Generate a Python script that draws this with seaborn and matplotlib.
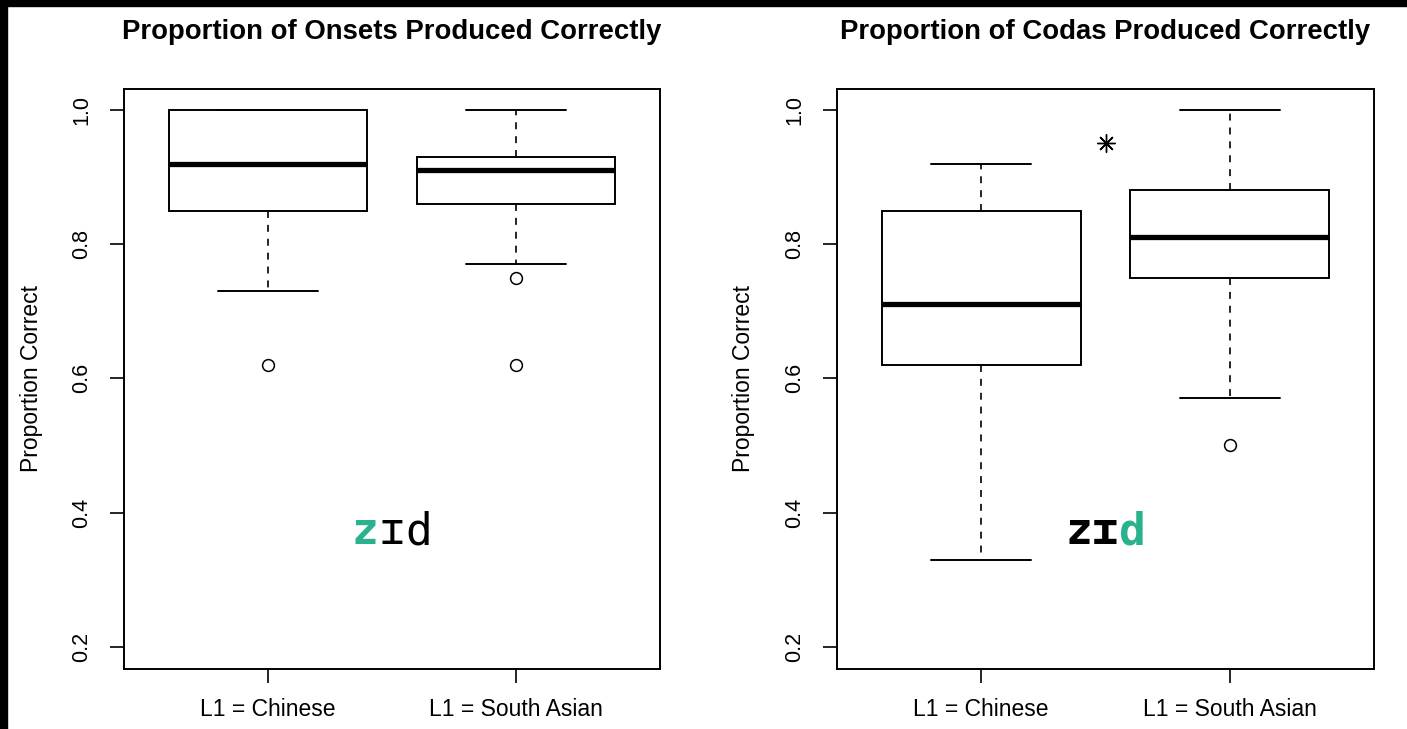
import numpy as np
import pandas as pd
import matplotlib
matplotlib.use("Agg")
import matplotlib.pyplot as plt
from matplotlib.patches import Rectangle
import seaborn as sns

# ---------------- data ----------------
groups = ["L1 = Chinese", "L1 = South Asian"]
onset_chinese = [0.62, 0.73, 0.85, 0.88, 0.92, 0.96, 1.00, 1.00, 1.00]
onset_south_asian = [0.62, 0.75, 0.77, 0.86, 0.88, 0.90, 0.91, 0.92, 0.93,
                     0.93, 0.95, 0.97, 1.00]
coda_chinese = [0.33, 0.50, 0.62, 0.66, 0.71, 0.78, 0.85, 0.88, 0.92]
coda_south_asian = [0.50, 0.57, 0.75, 0.78, 0.81, 0.85, 0.88, 0.95, 1.00]
sig_pos = [0.5]      # between the two groups (categorical axis units)
sig_val = [0.95]
titles = ["Proportion of Onsets Produced Correctly",
          "Proportion of Codas Produced Correctly"]
ylabel = "Proportion Correct"
yticks = [0.2, 0.4, 0.6, 0.8, 1.0]
ytick_labels = ["0.2", "0.4", "0.6", "0.8", "1.0"]
word_chars = ["z", "\u026a", "d"]
highlight = [0, 2]   # index of highlighted letter in each panel

def frame(a, b):
    return pd.DataFrame({
        "group": [groups[0]] * len(a) + [groups[1]] * len(b),
        "value": list(a) + list(b),
    })

onset_df = frame(onset_chinese, onset_south_asian)
coda_df = frame(coda_chinese, coda_south_asian)

# ---------------- style ----------------
sns.set_theme(style="white")
plt.rcParams["font.family"] = ["Liberation Sans", "DejaVu Sans"]
plt.rcParams["lines.scale_dashes"] = False

W, H = 1407, 729
fig = plt.figure(figsize=(W / 100, H / 100), dpi=100, facecolor="white")

axes_px = [(124, 89, 660, 669), (837, 89, 1374, 669)]
teal = "#2ab28e"

for i, (df, (x0, y0, x1, y1)) in enumerate(zip([onset_df, coda_df], axes_px)):
    ax = fig.add_axes([x0 / W, 1 - y1 / H, (x1 - x0) / W, (y1 - y0) / H])
    sns.boxplot(
        data=df, x="group", y="value", order=groups, ax=ax,
        color="white", linecolor="black", linewidth=1.4, width=0.8,
        fliersize=8.5,
        medianprops=dict(linewidth=3.8, color="black"),
        whiskerprops=dict(linestyle=(0, (5, 5)), color="black", linewidth=1.2),
        capprops=dict(color="black", linewidth=1.4),
        boxprops=dict(edgecolor="black", linewidth=1.4),
        flierprops=dict(marker="o", markerfacecolor="none",
                        markeredgecolor="black", markersize=8.5,
                        markeredgewidth=1.1),
    )
    ax.set_xlim(-0.58, 1.58)
    ax.set_ylim(0.167, 1.031)
    ax.set_yticks(yticks)
    ax.set_yticklabels(ytick_labels, rotation=90, va="center")
    ax.set_xlabel("")
    ax.set_ylabel(ylabel, fontsize=16.5, color="black")
    ax.yaxis.set_label_coords(-0.152, 0.5)
    ax.tick_params(axis="y", length=10, width=1.2, pad=13, labelsize=15.5,
                   colors="black", left=True)
    ax.tick_params(axis="x", length=10, width=1.2, pad=11, labelsize=16.5,
                   colors="black", bottom=True)
    for sp in ax.spines.values():
        sp.set_visible(True)
        sp.set_color("black")
        sp.set_linewidth(1.4)
    ax.set_title(titles[i], fontsize=19.8, fontweight="bold", pad=36,
                 color="black")

    # word label with highlighted letter
    fs = 32
    adv = 0.602 * fs
    for k, ch in enumerate(word_chars):
        hl = (k == highlight[i])
        if i == 0:
            weight = "bold" if hl else "normal"
        else:
            weight = "bold"
        ax.annotate(ch, xy=(0.5, 0.353), xycoords="data",
                    xytext=((k - 1) * adv, 0), textcoords="offset points",
                    ha="center", va="baseline", fontsize=fs,
                    fontweight=weight, color=teal if hl else "black",
                    family=["DejaVu Sans Mono", "DejaVu Sans"])

    if i == 1:
        ax.plot(sig_pos, sig_val, linestyle="none", marker=(8, 2, 0),
                markersize=13, markeredgewidth=1.0, color="black")

# black screenshot edges
fig.add_artist(Rectangle((0, 0), 7 / W, 1, transform=fig.transFigure,
                         color="black", zorder=10))
fig.add_artist(Rectangle((0, 1 - 6 / H), 1, 6 / H, transform=fig.transFigure,
                         color="black", zorder=10))

fig.savefig("out.png", dpi=100, facecolor="white")
